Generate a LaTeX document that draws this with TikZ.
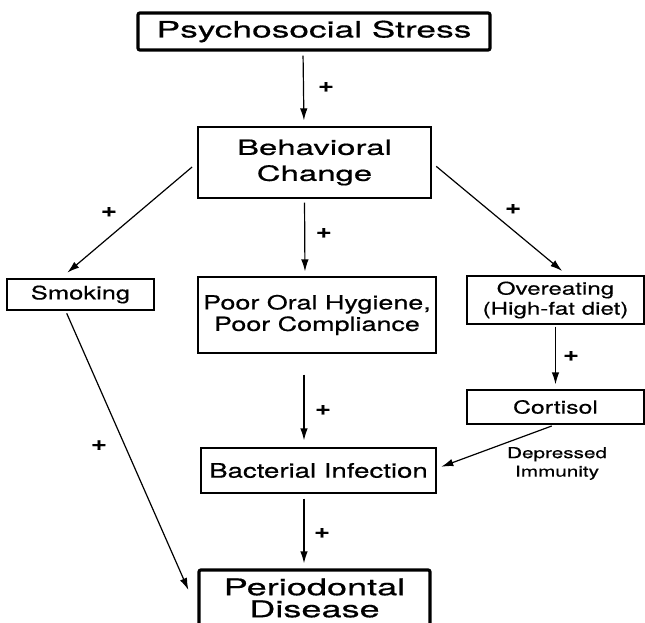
\documentclass[tikz,border=0pt]{standalone}
\usepackage{fontspec}
\setmainfont{TeX Gyre Heros}[FakeStretch=1.38,FakeBold=0.5]
\newfontfamily\widefont{TeX Gyre Heros}[FakeStretch=1.57,FakeBold=0.6]
\usetikzlibrary{arrows.meta}

\begin{document}
\begin{tikzpicture}[x=1pt,y=-1pt]

%
% Styles
%
\tikzstyle{box} = [rectangle,draw=black,line width=1.2pt,inner sep=0pt,align=center]
\tikzstyle{mainbox} = [box,line width=3.2pt,rounded corners=2pt]
\tikzstyle{arrow} = [-{Latex[length=12pt,width=7.5pt]},line width=1.2pt]
\tikzstyle{plus} = [font=\fontsize{20}{20}\selectfont\bfseries,inner sep=0pt]
\tikzstyle{note} = [align=center,inner sep=0pt,font=\fontsize{15}{18.5}\selectfont]

\useasboundingbox (0,0) rectangle (645,623);

\node[mainbox,minimum width=352pt,minimum height=37pt,
      font=\widefont\fontsize{22.5}{24}\selectfont] (stress) at (314,31.5) {Psychosocial Stress};
\node[box,minimum width=233pt,minimum height=71pt,
      font=\widefont\fontsize{21}{26}\selectfont] (behav) at (314.5,162.5) {Behavioral\\Change};
\node[box,minimum width=147pt,minimum height=31pt,
      font=\fontsize{18.5}{20}\selectfont] (smoking) at (80.5,294.5) {Smoking};
\node[box,minimum width=238pt,minimum height=76pt,
      font=\fontsize{19.5}{21.5}\selectfont] (hygiene) at (317,315) {Poor Oral Hygiene,\\Poor Compliance};
\node[box,minimum width=177pt,minimum height=48pt,
      font=\fontsize{17.5}{20}\selectfont] (overeat) at (555.5,300) {Overeating\\(High-fat diet)};
\node[box,minimum width=177pt,minimum height=34pt,
      font=\fontsize{18}{20}\selectfont] (cortisol) at (555.5,407) {Cortisol};
\node[box,minimum width=235pt,minimum height=45pt,
      font=\fontsize{20}{22}\selectfont] (bact) at (318.5,470.5) {Bacterial Infection};
\node[mainbox,minimum width=231pt,minimum height=56pt,
      font=\widefont\fontsize{23}{22}\selectfont] (perio) at (314.5,598) {Periodontal\\Disease};

\draw[arrow,shorten <=4pt,shorten >=6pt] ([xshift=-11pt]stress.south) -- node[plus,xshift=22.5pt,yshift=2pt] {+} ([xshift=-10.5pt]behav.north);
\draw[arrow,shorten <=7pt,shorten >=9pt] (behav.west) -- node[plus,xshift=-20pt,yshift=8.5pt] {+} ([xshift=-20pt]smoking.north);
\draw[arrow,shorten <=4pt,shorten >=5pt] ([xshift=-10pt]behav.south) -- node[plus,xshift=19pt,yshift=4.5pt] {+} ([xshift=-12pt]hygiene.north);
\draw[arrow,shorten <=6pt,shorten >=7pt] (behav.east) -- node[plus,xshift=13.5pt,yshift=10pt] {+} ([xshift=12pt]overeat.north);
\draw[arrow,shorten <=3pt] ([xshift=-15pt]smoking.south) -- node[plus,xshift=-28pt,yshift=5pt] {+} ([xshift=-9pt,yshift=8pt]perio.west);
\draw[arrow,shorten <=2pt,shorten >=5pt] (overeat.south) -- node[plus,xshift=15.5pt,yshift=1pt] {+} (cortisol.north);
\draw[arrow,shorten <=21pt,shorten >=7pt] ([xshift=-13pt]hygiene.south) -- node[plus,xshift=19pt,yshift=-9.5pt] {+} ([xshift=-14.5pt]bact.north);
\draw[arrow,shorten <=4pt,shorten >=5pt] (cortisol.south) -- node[note,xshift=61pt,yshift=-17pt] {Depressed\\Immunity} ([yshift=2pt]bact.east);
\draw[arrow,shorten <=5pt,shorten >=5pt] ([xshift=-14.5pt]bact.south) -- node[plus,xshift=18pt,yshift=-2pt] {+} ([xshift=-10.5pt]perio.north);

\end{tikzpicture}
\end{document}
